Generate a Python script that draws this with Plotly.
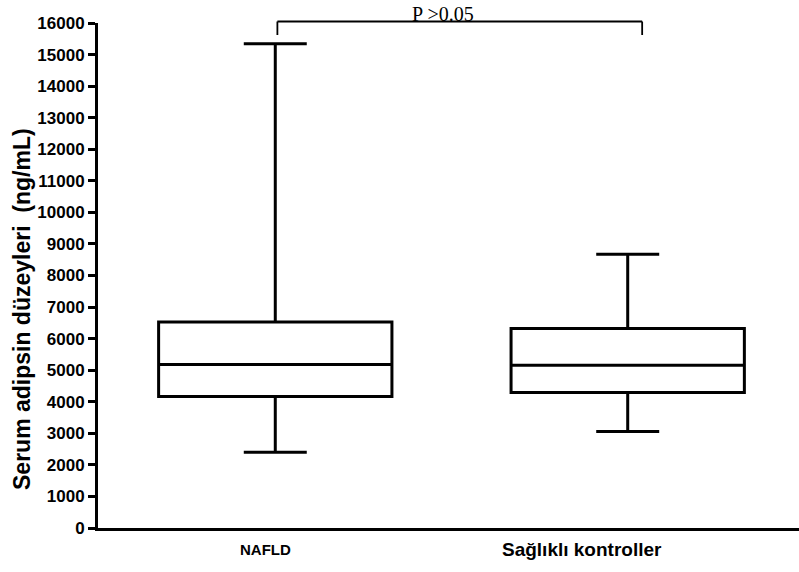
import plotly.graph_objects as go

# ---- data ----
categories = ["NAFLD", "Sağlıklı kontroller"]
lower_whisker = [2400, 3060]
q1_values = [4170, 4290]
median_values = [5180, 5160]
q3_values = [6530, 6320]
upper_whisker = [15340, 8670]
y_ticks = list(range(0, 16001, 1000))
p_text = "P >0.05"
y_title = "Serum adipsin düzeyleri  (ng/mL)"

W, H = 799, 572
ML, MR, MT, MB = 98, 0, 23, 44
PW, PH = W - ML - MR, H - MT - MB


def py(pixel_y):
    return (H - MB - pixel_y) / PH


def px(pixel_x):
    return (pixel_x - ML) / PW


fig = go.Figure()
fig.add_trace(go.Box(
    x=categories,
    q1=q1_values,
    median=median_values,
    q3=q3_values,
    lowerfence=lower_whisker,
    upperfence=upper_whisker,
    boxpoints=False,
    width=0.662,
    whiskerwidth=0.27,
    fillcolor="white",
    line=dict(color="black", width=3),
    showlegend=False,
    hoverinfo="skip",
))

axis_font = dict(family="Liberation Sans, Arial, sans-serif", color="black")

fig.update_layout(
    width=W, height=H,
    margin=dict(l=ML, r=MR, t=MT, b=MB, pad=0),
    paper_bgcolor="white", plot_bgcolor="white",
    xaxis=dict(
        type="category",
        range=[-0.503, 1.486],
        showticklabels=False,
        ticks="",
        showgrid=False,
        zeroline=False,
        showline=True, linecolor="black", linewidth=3,
    ),
    yaxis=dict(
        range=[0, 16000],
        tickvals=y_ticks,
        ticktext=[f"<b>{v}</b>" for v in y_ticks],
        ticks="outside", ticklen=7, tickwidth=2.5, tickcolor="black",
        tickfont=dict(size=17, **axis_font),
        showgrid=False,
        zeroline=False,
        showline=True, linecolor="black", linewidth=3,
    ),
)

# x category labels
fig.add_annotation(x=-0.028, xref="x", y=py(549), yref="paper",
                   text="<b>NAFLD</b>", showarrow=False,
                   xanchor="center", yanchor="middle",
                   font=dict(size=15, **axis_font))
fig.add_annotation(x=0.871, xref="x", y=py(549), yref="paper",
                   text="<b>Sağlıklı kontroller</b>", showarrow=False,
                   xanchor="center", yanchor="middle",
                   font=dict(size=19, **axis_font))

# y-axis title
fig.add_annotation(x=px(22), xref="paper", y=py(309), yref="paper",
                   text=f"<b>{y_title}</b>", textangle=-90, showarrow=False,
                   xanchor="center", yanchor="middle",
                   font=dict(size=23, **axis_font))

# significance bracket
bx0, bx1 = 0.006, 1.041
btop, bbot = py(21.5), py(35)
bracket = dict(color="black", width=1.8)
fig.add_shape(type="line", xref="x", yref="paper", x0=bx0, x1=bx1, y0=btop, y1=btop, line=bracket)
fig.add_shape(type="line", xref="x", yref="paper", x0=bx0, x1=bx0, y0=btop, y1=bbot, line=bracket)
fig.add_shape(type="line", xref="x", yref="paper", x0=bx1, x1=bx1, y0=btop, y1=bbot, line=bracket)
fig.add_annotation(x=0.476, xref="x", y=py(14), yref="paper",
                   text=p_text, showarrow=False,
                   xanchor="center", yanchor="middle",
                   font=dict(size=20, family="Liberation Serif, Times New Roman, serif", color="black"))

fig.write_html("out.html")
